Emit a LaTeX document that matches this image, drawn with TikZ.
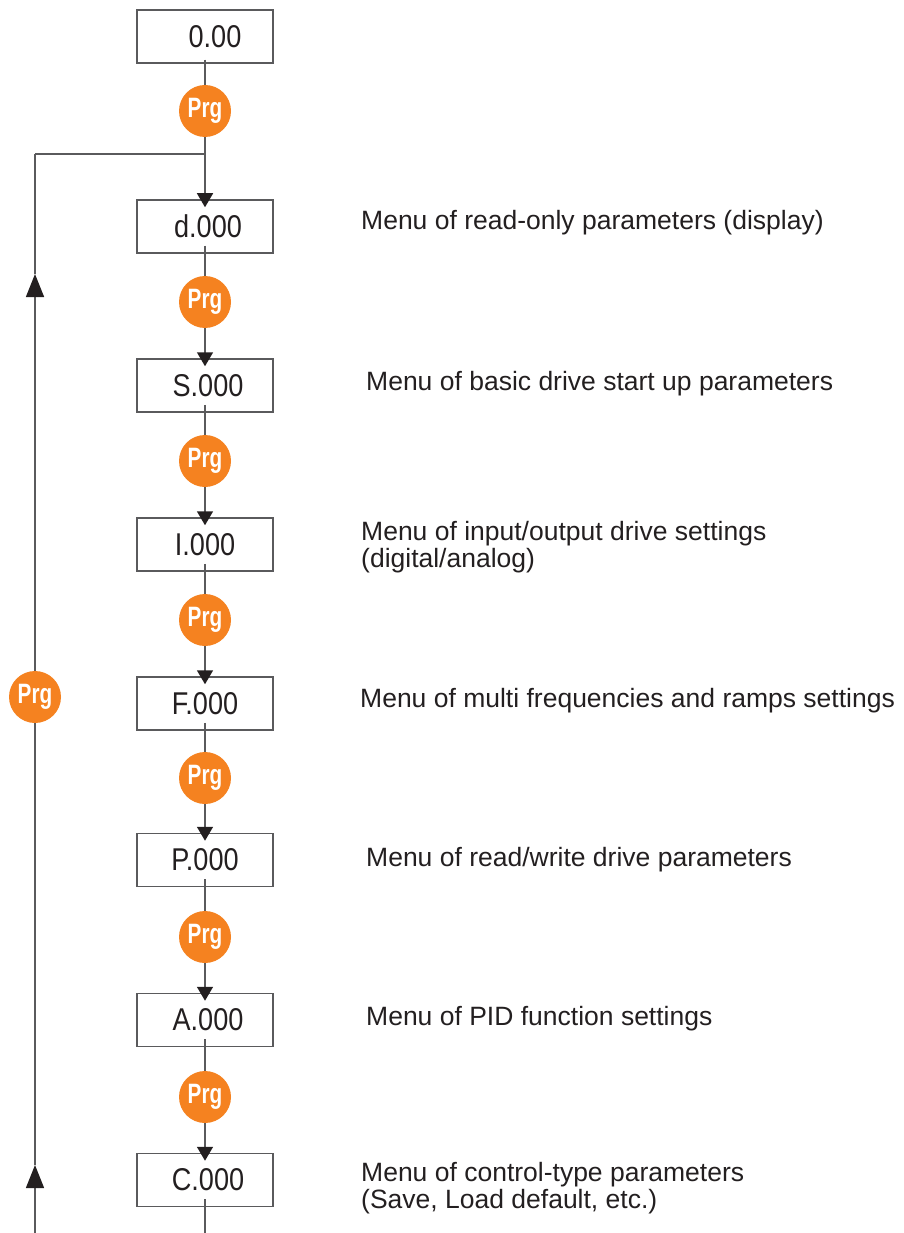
\documentclass[tikz,border=0pt]{standalone}
\usepackage{fontspec}
\setmainfont{Liberation Sans}
\newfontfamily\condfont[FakeStretch=0.86]{Liberation Sans}
\newfontfamily\prgfont[FakeStretch=0.74]{Liberation Sans Bold}
\usetikzlibrary{arrows.meta}
\definecolor{prgorange}{HTML}{F58220}
\definecolor{inkdark}{HTML}{231F20}
\definecolor{linegray}{HTML}{5A5A5C}
\begin{document}
\begin{tikzpicture}[x=1pt,y=-1pt,
  dispbox/.style={draw=linegray,line width=1.5pt,minimum width=136pt,minimum height=53pt,inner sep=0pt,
    font=\condfont\fontsize{31.5}{31.5}\selectfont,text=inkdark},
  prgbtn/.style={circle,fill=prgorange,minimum size=52pt,inner sep=0pt,
    font=\prgfont\fontsize{28}{28}\selectfont,text=white},
  conn/.style={draw=linegray,line width=1.5pt},
  arr/.style={conn,-{Triangle[width=16pt,length=14pt,inkdark]}},
  larr/.style={conn,-{Triangle[width=18pt,length=23pt,inkdark]}},
  desc/.style={anchor=base west,inner sep=0pt,align=left,text=inkdark,
    font=\fontsize{26.5}{27}\selectfont}
]
\useasboundingbox (0,0) rectangle (904,1233);
% boxes
\node[dispbox] (b0) at (205,36.5) {\hspace*{20pt}0.00};
\node[dispbox] (bd) at (205,226.5) {\hspace*{6pt}d.000};
\node[dispbox] (bs) at (205,385.5) {\hspace*{6pt}S.000};
\node[dispbox] (bi) at (205,544.5) {\hspace*{0pt}I.000};
\node[dispbox] (bf) at (205,703.5) {\hspace*{0pt}F.000};
\node[dispbox] (bp) at (205,860) {\hspace*{0pt}P.000};
\node[dispbox] (ba) at (205,1020) {\hspace*{6pt}A.000};
\node[dispbox] (bc) at (205,1180) {\hspace*{6pt}C.000};
% prg buttons
\node[prgbtn] (p0) at (205,111) {Prg};
\node[prgbtn] (pd) at (205,302) {Prg};
\node[prgbtn] (ps) at (205,461) {Prg};
\node[prgbtn] (pi) at (205,620) {Prg};
\node[prgbtn] (pf) at (205,778) {Prg};
\node[prgbtn] (pp) at (205,937) {Prg};
\node[prgbtn] (pa) at (205,1097) {Prg};
\node[prgbtn] (pl) at (35,697) {Prg};
% top connection
\coordinate (s0) at ([yshift=4pt]b0.south);
\coordinate (jn) at (205,154);
\coordinate (lt) at (35,154);
\coordinate (t0) at ([yshift=-8pt]bd.north);
\draw[conn] (s0) -- (p0.north);
\draw[arr] (p0.south) -- (t0);
\draw[conn] (jn) -- (lt);
% chain
\foreach \a/\p/\b in {bd/pd/bs, bs/ps/bi, bi/pi/bf, bf/pf/bp, bp/pp/ba, ba/pa/bc}{
  \draw[conn] ([yshift=8pt]\a.south) -- (\p.north);
  \draw[arr] (\p.south) -- ([yshift=-8pt]\b.north);
}
\coordinate (cb) at (205,1233);
\draw[conn] ([yshift=8pt]bc.south) -- (cb);
% left return line
\coordinate (lb) at (35,1233);
\coordinate (la1) at (35,1165);
\coordinate (la2) at (35,274);
\draw[larr] (lb) -- (la1);
\draw[conn] (la1) -- (pl.south);
\draw[larr] (pl.north) -- (la2);
\draw[conn] (la2) -- (lt);
% descriptions
\node[desc] (dd) at (361,230) {Menu of read-only parameters (display)};
\node[desc] (ds) at (366,390) {Menu of basic drive start up parameters};
\node[desc] (di) at (361,567) {Menu of input/output drive settings\\(digital/analog)};
\node[desc] (df) at (360,707) {Menu of multi frequencies and ramps settings};
\node[desc] (dp) at (366,866) {Menu of read/write drive parameters};
\node[desc] (da) at (366,1025) {Menu of PID function settings};
\node[desc] (dc) at (361,1208) {Menu of control-type parameters\\(Save, Load default, etc.)};
\end{tikzpicture}
\end{document}
